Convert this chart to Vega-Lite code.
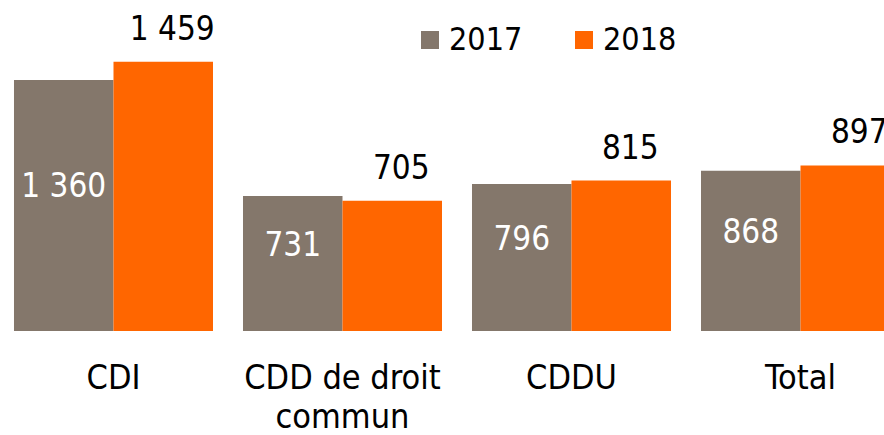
{
  "$schema": "https://vega.github.io/schema/vega-lite/v6.json",
  "width": 914,
  "height": 331,
  "padding": {"top": 0, "left": 0, "right": 0, "bottom": 104},
  "autosize": {"type": "none"},
  "background": "white",
  "config": {
    "view": {"stroke": null},
    "font": "DejaVu Sans Condensed",
    "locale": {"number": {"decimal": ",", "thousands": " ", "grouping": [3], "currency": ["", " €"]}}
  },
  "data": {
    "values": [
      {"cat": "CDI", "year": "2017", "value": 1360},
      {"cat": "CDI", "year": "2018", "value": 1459},
      {"cat": "CDD de droit commun", "year": "2017", "value": 731},
      {"cat": "CDD de droit commun", "year": "2018", "value": 705},
      {"cat": "CDDU", "year": "2017", "value": 796},
      {"cat": "CDDU", "year": "2018", "value": 815},
      {"cat": "Total", "year": "2017", "value": 868},
      {"cat": "Total", "year": "2018", "value": 897}
    ]
  },
  "encoding": {
    "x": {
      "field": "cat", "type": "nominal", "sort": null,
      "scale": {"paddingInner": 0.131, "paddingOuter": 0.0611},
      "axis": {
        "title": null, "labelAngle": 0, "domain": false, "ticks": false,
        "labelFontSize": 34, "labelColor": "black", "labelPadding": 30,
        "labelLimit": 0, "labelLineHeight": 39,
        "labelExpr": "datum.label == 'CDD de droit commun' ? ['CDD de droit', 'commun'] : datum.label"
      }
    },
    "xOffset": {"field": "year", "type": "nominal", "scale": {"paddingInner": 0, "paddingOuter": 0}}
  },
  "resolve": {"scale": {"y": "independent"}},
  "layer": [
    {
      "mark": {"type": "bar"},
      "encoding": {
        "y": {"field": "value", "type": "quantitative", "scale": {"domain": [0, 1793], "nice": false}, "axis": null},
        "color": {
          "field": "year", "type": "nominal",
          "scale": {"domain": ["2017", "2018"], "range": ["#84776B", "#FF6600"]},
          "legend": {
            "orient": "none", "legendX": 414, "legendY": 24, "direction": "horizontal",
            "title": null, "symbolType": "square", "symbolSize": 324, "symbolStrokeWidth": 0,
            "labelFontSize": 32, "labelColor": "black",
            "columnPadding": 45, "labelOffset": 3
          }
        }
      }
    },
    {
      "transform": [{"filter": "datum.year == '2018'"}],
      "mark": {"type": "text", "baseline": "alphabetic", "dy": -22, "dx": 9, "fontSize": 33, "color": "black"},
      "encoding": {
        "y": {"field": "value", "type": "quantitative", "scale": {"domain": [0, 1793], "nice": false}, "axis": null},
        "text": {"field": "value", "type": "quantitative", "format": ",d"}
      }
    },
    {
      "transform": [{"filter": "datum.year == '2017'"}],
      "mark": {"type": "text", "baseline": "alphabetic", "dy": -8, "fontSize": 33, "color": "white"},
      "encoding": {
        "y": {"field": "value", "type": "quantitative", "scale": {"domain": [0, 3586], "nice": false}, "axis": null},
        "text": {"field": "value", "type": "quantitative", "format": ",d"}
      }
    }
  ]
}
